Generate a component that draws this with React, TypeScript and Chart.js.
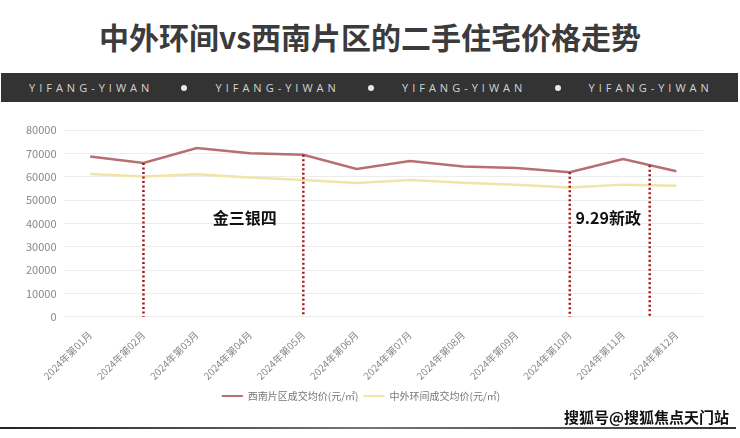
import React, { useEffect, useRef } from "react";
import { Chart, registerables } from "chart.js";

Chart.register(...registerables);

const months = [
  "2024年第01月", "2024年第02月", "2024年第03月", "2024年第04月",
  "2024年第05月", "2024年第06月", "2024年第07月", "2024年第08月",
  "2024年第09月", "2024年第10月", "2024年第11月", "2024年第12月",
];
const southwest = [68600, 65900, 72300, 70000, 69400, 63300, 66700, 64400, 63700, 61900, 67600, 62300];
const innerOuter = [61100, 60100, 61000, 59700, 58600, 57300, 58600, 57400, 56600, 55400, 56600, 56100];
const seriesNames = ["西南片区成交均价(元/㎡)", "中外环间成交均价(元/㎡)"];
const markerIndexes = [1, 4, 9, 10.5];
const notes = [
  { text: "金三银四", at: 2.9, value: 42500 },
  { text: "9.29新政", at: 9.72, value: 42500 },
];
const yTicks = [0, 10000, 20000, 30000, 40000, 50000, 60000, 70000, 80000];

const FONT = "'Noto Sans CJK SC', 'Microsoft YaHei', sans-serif";

function valueAt(idx: number): number {
  const lo = Math.floor(idx);
  const hi = Math.ceil(idx);
  if (lo === hi) return southwest[lo];
  const t = idx - lo;
  return southwest[lo] * (1 - t) + southwest[hi] * t;
}

const overlayPlugin = {
  id: "overlay",
  afterDatasetsDraw(chart: any) {
    const { ctx, scales } = chart;
    const x = scales.x;
    const y = scales.y;
    ctx.save();
    ctx.strokeStyle = "#a3161b";
    ctx.lineWidth = 2.5;
    ctx.setLineDash([2, 2.5]);
    for (const idx of markerIndexes) {
      const px = x.getPixelForValue(idx);
      ctx.beginPath();
      ctx.moveTo(px, y.getPixelForValue(valueAt(idx)));
      ctx.lineTo(px, y.getPixelForValue(0));
      ctx.stroke();
    }
    ctx.setLineDash([]);
    ctx.fillStyle = "#111";
    ctx.font = `bold 16px ${FONT}`;
    ctx.textAlign = "center";
    ctx.textBaseline = "middle";
    for (const n of notes) {
      ctx.fillText(n.text, x.getPixelForValue(n.at), y.getPixelForValue(n.value));
    }
    ctx.restore();
  },
};

function LineChart() {
  const ref = useRef<HTMLCanvasElement | null>(null);
  useEffect(() => {
    if (!ref.current) return;
    const chart = new Chart(ref.current, {
      type: "line",
      data: {
        labels: months,
        datasets: [
          {
            label: seriesNames[0],
            data: southwest,
            borderColor: "#b76f70",
            backgroundColor: "#b76f70",
            borderWidth: 2.5,
            pointRadius: 0,
            tension: 0,
          },
          {
            label: seriesNames[1],
            data: innerOuter,
            borderColor: "#efe5a6",
            backgroundColor: "#efe5a6",
            borderWidth: 2.5,
            pointRadius: 0,
            tension: 0,
          },
        ],
      },
      options: {
        animation: false,
        responsive: true,
        maintainAspectRatio: false,
        layout: { padding: { left: 19, right: 37, top: 15, bottom: 0 } },
        plugins: {
          tooltip: { enabled: false },
          legend: {
            position: "bottom",
            labels: {
              color: "#777",
              font: { family: FONT, size: 10 },
              boxWidth: 21,
              boxHeight: 2,
              padding: 5,
              generateLabels(c: any) {
                const base = (Chart.defaults.plugins.legend.labels as any).generateLabels(c);
                return base.map((l: any) => ({ ...l, lineWidth: 0 }));
              },
            },
          },
        },
        scales: {
          x: {
            offset: true,
            grid: { display: false },
            border: { display: false },
            ticks: {
              color: "#888",
              font: { family: FONT, size: 10 },
              minRotation: 45,
              maxRotation: 45,
              padding: 4,
            },
          },
          y: {
            min: 0,
            max: 80000,
            afterBuildTicks(axis: any) {
              axis.ticks = yTicks.map((v) => ({ value: v }));
            },
            grid: { color: "#ececec", drawTicks: false },
            border: { display: false },
            ticks: {
              color: "#888",
              font: { family: FONT, size: 11 },
              padding: 7,
              callback: (v: any) => String(v),
            },
          },
        },
      },
      plugins: [overlayPlugin],
    } as any);
    return () => chart.destroy();
  }, []);
  return <canvas ref={ref} />;
}

const bannerItems = ["YIFANG-YIWAN", "YIFANG-YIWAN", "YIFANG-YIWAN", "YIFANG-YIWAN"];

export default function App() {
  useEffect(() => {
    document.body.style.margin = "0";
  }, []);
  return (
    <div style={{ position: "relative", width: 740, height: 438, background: "#fff", overflow: "hidden", fontFamily: FONT }}>
      <div style={{ position: "absolute", top: 11, left: 0, width: 740, textAlign: "center", fontSize: 30, fontWeight: 700, color: "#3b3b3b", lineHeight: "50px" }}>
        中外环间vs西南片区的二手住宅价格走势
      </div>
      <div style={{ position: "absolute", top: 73, left: 1, width: 737, height: 29, background: "#333333", color: "#d4d4d4" }}>
        {bannerItems.map((t, i) => (
          <span key={i} style={{ position: "absolute", left: 28 + i * 186.5, top: 0, lineHeight: "29px", fontSize: 11, letterSpacing: 4, fontFamily: "'Open Sans', sans-serif", fontWeight: 400 }}>
            {t}
          </span>
        ))}
        {[0, 1, 2].map((i) => (
          <span key={"d" + i} style={{ position: "absolute", left: 180 + i * 187, top: 11.5, width: 6, height: 6, borderRadius: 3, background: "#e8e8e8" }} />
        ))}
      </div>
      <div style={{ position: "absolute", top: 115, left: 0, width: 740, height: 296 }}>
        <LineChart />
      </div>
      <div style={{ position: "absolute", top: 427, left: 0, width: 736, height: 2, background: "linear-gradient(to right, #222, #777 50%, #333)" }} />
      <div style={{ position: "absolute", top: 407, left: 564, fontSize: 15, fontWeight: 700, color: "#111", lineHeight: "20px", background: "transparent" }}>
        搜狐号@搜狐焦点天门站
      </div>
    </div>
  );
}
